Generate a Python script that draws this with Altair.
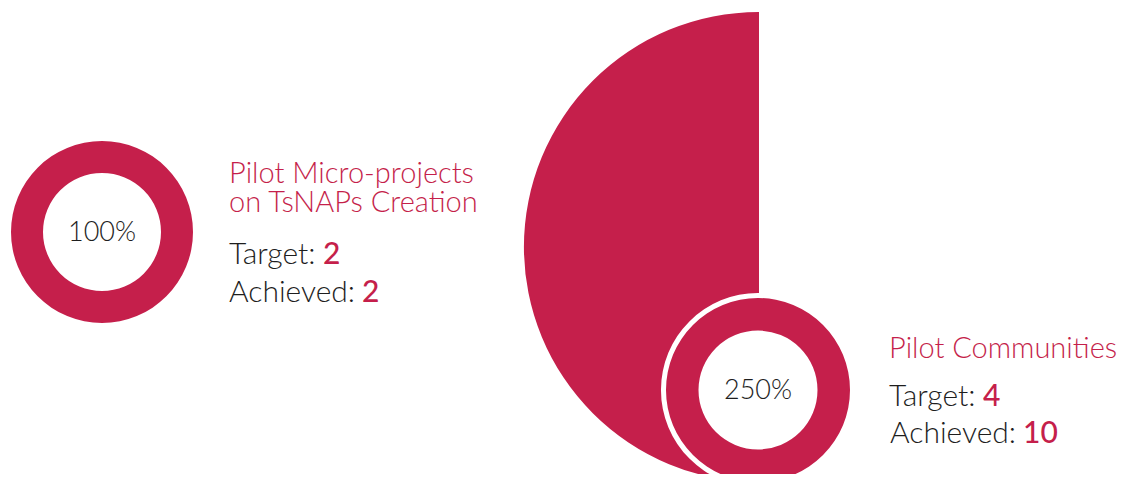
import math
import altair as alt
import pandas as pd

# ---- data ----
titles = [["Pilot Micro-projects", "on TsNAPs Creation"], ["Pilot Communities"]]
targets = [2, 4]
achieved = [2, 10]
pct_labels = ["100%", "250%"]

RED = "#C51F4B"
INK = "#1e1e1e"
FONT = "Lato"

W, H = 1118, 466

def arc_layer(cx, cy, r_in, r_out, t0, t1, color):
    df = pd.DataFrame({"k": [0]})
    return alt.Chart(df).mark_arc(color=color).encode(
        x=alt.value(cx), y=alt.value(cy),
        theta=alt.value(t0), theta2=alt.value(t1),
        radius=alt.value(r_out), radius2=alt.value(r_in),
    )

def text_layer(txt, x, y, size, color, weight=300):
    df = pd.DataFrame({"t": [txt]})
    return alt.Chart(df).mark_text(
        align="left", baseline="alphabetic", font=FONT, fontSize=size,
        fontWeight=weight, color=color,
    ).encode(x=alt.value(x), y=alt.value(y), text="t:N")

def center_text(txt, x, y, size):
    df = pd.DataFrame({"t": [txt]})
    return alt.Chart(df).mark_text(
        align="center", baseline="middle", font=FONT, fontSize=size,
        fontWeight=300, color=INK,
    ).encode(x=alt.value(x), y=alt.value(y), text="t:N")

layers = []

# left donut (100%)
frac0 = min(achieved[0] / targets[0], 1.0)
layers.append(arc_layer(94, 224, 59, 91, 0, 2 * math.pi * frac0, RED))
layers.append(center_text(pct_labels[0], 94, 225, 27))

# right: big half disc (extra above 100%)
layers.append(arc_layer(751, 239, 0, 235, math.pi, 2 * math.pi, RED))
# white halo and small donut
layers.append(arc_layer(750, 382, 0, 97, 0, 2 * math.pi, "#ffffff"))
frac1 = min(achieved[1] / targets[1], 1.0)
layers.append(arc_layer(750, 382, 59.5, 92, 0, 2 * math.pi * frac1, RED))
layers.append(center_text(pct_labels[1], 750, 383, 27))

# left texts
layers.append(text_layer(titles[0][0], 221, 175, 29, RED))
layers.append(text_layer(titles[0][1], 221, 204, 29, RED))
layers.append(text_layer("Target:", 221, 256, 30, INK))
layers.append(text_layer(str(targets[0]), 315, 256, 30, RED, 500))
layers.append(text_layer("Achieved:", 221, 294, 30, INK))
layers.append(text_layer(str(achieved[0]), 354, 294, 30, RED, 500))

# right texts
layers.append(text_layer(titles[1][0], 881, 350, 29, RED))
layers.append(text_layer("Target:", 881, 398, 30, INK))
layers.append(text_layer(str(targets[1]), 975, 398, 30, RED, 500))
layers.append(text_layer("Achieved:", 882, 435, 30, INK))
layers.append(text_layer(str(achieved[1]), 1015, 435, 30, RED, 500))

chart = alt.layer(*layers).properties(
    width=W, height=H, padding=0,
    autosize=alt.AutoSizeParams(type="none"),
).configure_view(stroke=None)

chart.save("out.html", embed_options={"renderer": "svg", "actions": False})
